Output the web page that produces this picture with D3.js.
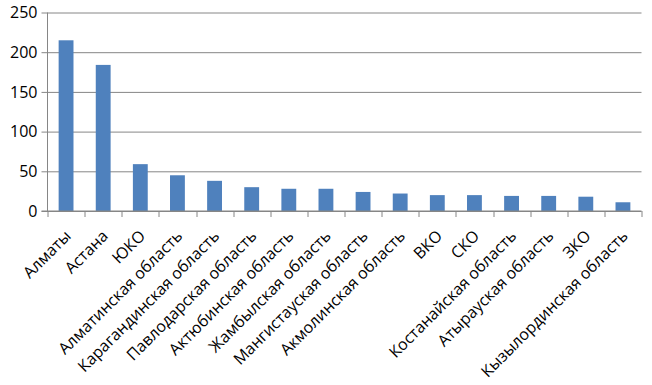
<!DOCTYPE html>
<html>
<head>
<meta charset="utf-8">
<script src="https://cdn.jsdelivr.net/npm/d3@7"></script>
<style>
  body { margin: 0; background: #fff; }
  text { font-family: "Open Sans", sans-serif; fill: #000; }
</style>
</head>
<body>
<div id="chart"></div>
<script>
// data
const regions = ["Алматы", "Астана", "ЮКО", "Алматинская область", "Карагандинская область",
  "Павлодарская область", "Актюбинская область", "Жамбылская область", "Мангистауская область",
  "Акмолинская область", "ВКО", "СКО", "Костанайская область", "Атырауская область", "ЗКО",
  "Кызылординская область"]
const counts = [215, 184, 59, 45, 38, 30, 28, 28, 24, 22, 20, 20, 19, 19, 18, 11]
const yTicks = [0, 50, 100, 150, 200, 250]

const W = 652, H = 385
const margin = {top: 12.5, right: 10.5, bottom: 174, left: 47.5}
const width = W - margin.left - margin.right,
    height = H - margin.top - margin.bottom

const svg = d3.select("#chart")
  .append("svg")
  .attr("width", W)
  .attr("height", H)
  .append("g")
    .attr("transform", `translate(${margin.left},${margin.top})`)

const x = d3.scaleBand()
  .domain(regions)
  .range([0, width])
  .paddingInner(0.6)
  .paddingOuter(0.3)

const y = d3.scaleLinear()
  .domain([0, 250])
  .range([height, 0])

const grey = "#868686"

// gridlines with small outer ticks
svg.append("g")
  .call(d3.axisLeft(y).tickValues(yTicks).tickSize(-width).tickSizeOuter(0).tickPadding(10))
  .call(g => g.select(".domain").remove())
  .call(g => g.selectAll("line").attr("stroke", grey).attr("x1", -6))
  .call(g => g.selectAll("text").style("font-size", "16px").attr("fill", "#000"))

// bars
svg.selectAll("rect.bar")
  .data(counts)
  .join("rect")
    .attr("class", "bar")
    .attr("x", (d, i) => x(regions[i]))
    .attr("width", x.bandwidth())
    .attr("y", d => y(d))
    .attr("height", d => height - y(d))
    .attr("fill", "#4F81BD")

// y axis line
svg.append("line")
  .attr("x1", 0).attr("x2", 0)
  .attr("y1", 0).attr("y2", height)
  .attr("stroke", grey)

// x axis with ticks at the category boundaries
const step = x.step()
const xAxis = svg.append("g").attr("transform", `translate(0,${height})`)
xAxis.append("line")
  .attr("x1", -6).attr("x2", width)
  .attr("stroke", grey)
xAxis.selectAll("line.tick")
  .data(d3.range(regions.length + 1))
  .join("line")
    .attr("class", "tick")
    .attr("x1", i => Math.round(i * step) + 0.5)
    .attr("x2", i => Math.round(i * step) + 0.5)
    .attr("y1", 0).attr("y2", 6)
    .attr("stroke", grey)

xAxis.selectAll("text")
  .data(regions)
  .join("text")
    .attr("transform", d => `translate(${x(d) + x.bandwidth() / 2 + 2},${22}) rotate(-45)`)
    .attr("text-anchor", "end")
    .attr("dy", "0.35em")
    .style("font-size", "16px")
    .text(d => d)
</script>
</body>
</html>
